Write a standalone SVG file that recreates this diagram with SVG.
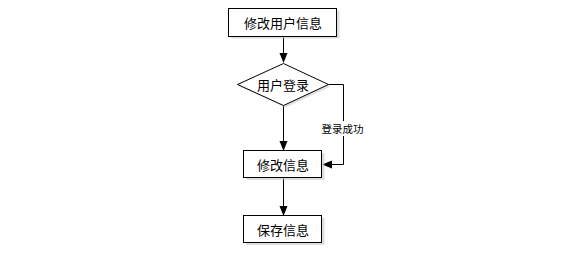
<svg xmlns="http://www.w3.org/2000/svg" width="575" height="256" viewBox="0 0 575 256">
<defs>
<marker id="arr" markerWidth="10" markerHeight="10" refX="9" refY="5" orient="auto" markerUnits="userSpaceOnUse">
<path d="M0,1 L10,5 L0,9 z" fill="#000"/>
</marker>
</defs>
<style>
.box{fill:#fff;stroke:#000;stroke-width:1}
.shadow{fill:#c8c8c8;opacity:0.6}
.t{font-family:"Noto Sans CJK SC","Noto Sans CJK JP",sans-serif;font-size:13px;fill:#000;text-anchor:middle;dominant-baseline:central}
.lbl{font-family:"Noto Sans CJK SC","Noto Sans CJK JP",sans-serif;font-size:10.5px;fill:#000;text-anchor:middle;dominant-baseline:central}
.edge{fill:none;stroke:#000;stroke-width:1}
</style>
<rect width="575" height="256" fill="#fff"/>
<g id="connectors">
<path class="edge" d="M283.5,36.5 V62" marker-end="url(#arr)"/>
<path class="edge" d="M283.5,105.5 V150" marker-end="url(#arr)"/>
<path class="edge" d="M328.5,84.5 H343.5 V164.5 H323" marker-end="url(#arr)"/>
<rect x="321" y="121" width="43" height="15" fill="#fff"/>
<text class="lbl" x="342.5" y="128.5">登录成功</text>
<path class="edge" d="M283.5,178 V215" marker-end="url(#arr)"/>
</g>
<g id="n1">
<rect class="shadow" x="231.5" y="10.5" width="108" height="28"/>
<rect class="box" x="228.5" y="8.5" width="108" height="28"/>
<text class="t" x="283" y="22.5">修改用户信息</text>
</g>
<g id="n2">
<polygon points="239.5,86.5 285.5,65.5 330.5,86.5 285.5,107.5" class="shadow"/>
<polygon class="box" points="237.5,84.5 283.5,63.5 328.5,84.5 283.5,105.5"/>
<text class="t" x="283" y="84.5">用户登录</text>
</g>
<g id="n3">
<rect class="shadow" x="246.5" y="153" width="78" height="27"/>
<rect class="box" x="243.5" y="150.5" width="78" height="27"/>
<text class="t" x="283" y="164">修改信息</text>
</g>
<g id="n4">
<rect class="shadow" x="246.5" y="218" width="78" height="27"/>
<rect class="box" x="243.5" y="215.5" width="78" height="27"/>
<text class="t" x="283" y="229">保存信息</text>
</g>
</svg>
